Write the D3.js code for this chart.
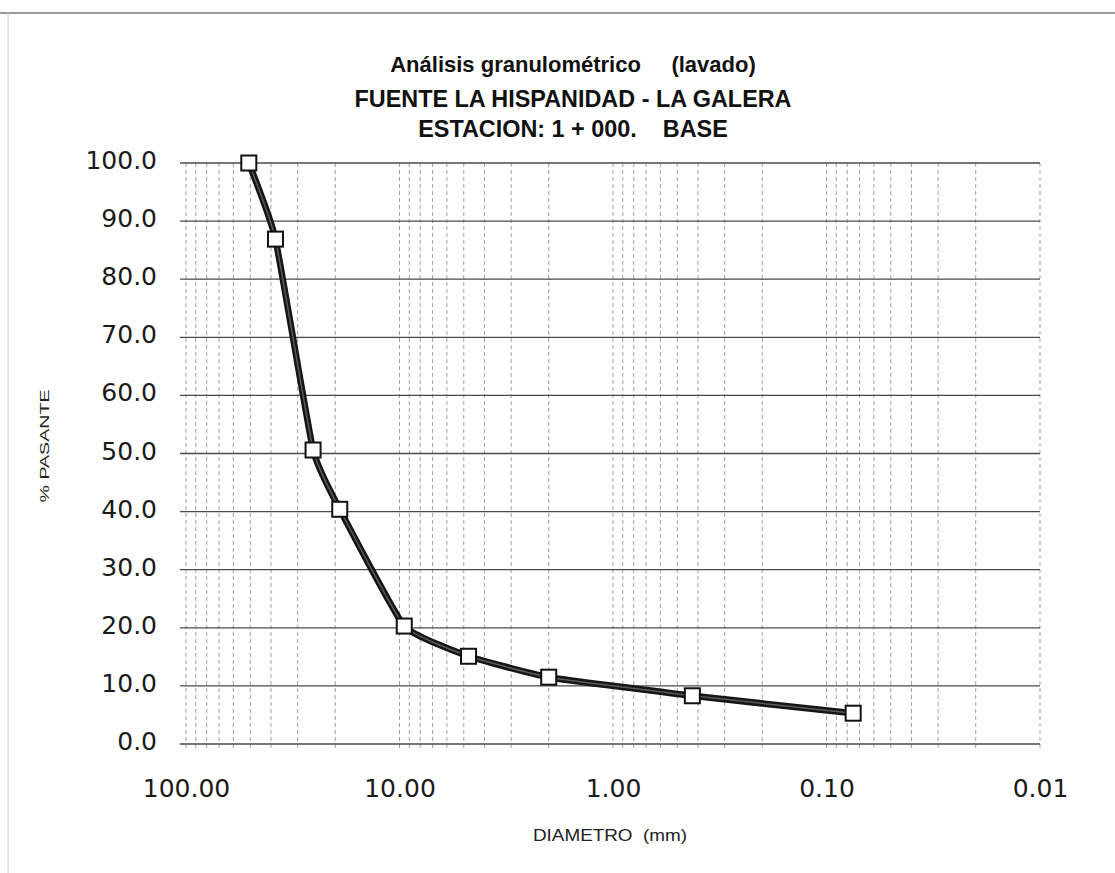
<!DOCTYPE html>
<html lang="es">
<head>
    <meta charset="utf-8">
    <title>Análisis granulométrico</title>
    <script src="https://d3js.org/d3.v7.min.js"></script>
    <style>
        body { margin: 0; background: #fff; }
        svg { display: block; }
        .title { font-family: "Liberation Sans", Arial, sans-serif; font-weight: bold; fill: #111; white-space: pre; }
        .tick text { font-family: "DejaVu Sans", sans-serif; font-size: 25px; fill: #1a1a1a; }
        .axis-label { font-family: "Liberation Sans", Arial, sans-serif; fill: #222; white-space: pre; }
    </style>
</head>
<body>
<div id="chart"></div>
<script>
    // sieve openings (mm) and % passing
    const diameters = [50.8, 38.1, 25.4, 19.05, 9.5, 4.75, 2.0, 0.425, 0.075];
    const passing = [100, 86.9, 50.6, 40.4, 20.3, 15.1, 11.5, 8.3, 5.3];
    const xTickValues = [100, 10, 1, 0.1, 0.01];
    const yTickValues = [0, 10, 20, 30, 40, 50, 60, 70, 80, 90, 100];
    const titleLines = ["Análisis granulométrico     (lavado)", "FUENTE LA HISPANIDAD - LA GALERA", "ESTACION: 1 + 000.    BASE"];

    const width = 1115, height = 873;
    const margin = {top: 163, right: 75, bottom: 129, left: 186};

    const svg = d3.select("#chart").append("svg")
        .attr("width", width)
        .attr("height", height);

    // scan frame
    svg.append("line").attr("x1", 0).attr("x2", width).attr("y1", 13).attr("y2", 13)
        .attr("stroke", "#777").attr("stroke-width", 1.5);
    svg.append("line").attr("x1", 8).attr("x2", 8).attr("y1", 13).attr("y2", height)
        .attr("stroke", "#ccc").attr("stroke-width", 1);

    const x = d3.scaleLog()
        .domain([100, 0.01])
        .range([margin.left, width - margin.right]);

    const y = d3.scaleLinear()
        .domain([0, 100])
        .range([height - margin.bottom, margin.top]);

    // vertical log grid (1..9 per decade)
    svg.append("g")
        .selectAll("line")
        .data(x.ticks())
        .join("line")
        .attr("x1", d => x(d)).attr("x2", d => x(d))
        .attr("y1", y(100)).attr("y2", y(0) + 5)
        .attr("stroke", "#a0a0a0")
        .attr("stroke-width", 1)
        .attr("stroke-dasharray", "4,3");

    // horizontal grid
    svg.append("g")
        .selectAll("line")
        .data(yTickValues)
        .join("line")
        .attr("x1", margin.left - 6).attr("x2", x(0.01))
        .attr("y1", d => y(d)).attr("y2", d => y(d))
        .attr("stroke", "#4a4a4a")
        .attr("stroke-width", 1.3);

    const xAxis = g => g
        .attr("transform", `translate(0,${y(0)})`)
        .call(d3.axisBottom(x).tickValues(xTickValues).tickFormat(d3.format(".2f")).tickSize(0).tickPadding(35))
        .call(g => g.select(".domain").remove());

    const yAxis = g => g
        .attr("transform", `translate(${margin.left - 4},0)`)
        .call(d3.axisLeft(y).tickValues(yTickValues).tickFormat(d3.format(".1f")).tickSize(0).tickPadding(25))
        .call(g => g.select(".domain").remove())
        .call(g => g.selectAll(".tick text").attr("dy", "0.22em"));

    svg.append("g").call(xAxis);
    svg.append("g").call(yAxis);

    // titles
    const titleY = [72, 107, 137];
    const titleSize = [22, 23.4, 23.4];
    svg.append("g")
        .selectAll("text")
        .data(titleLines)
        .join("text")
        .attr("class", "title")
        .attr("x", 573)
        .attr("y", (d, i) => titleY[i])
        .attr("text-anchor", "middle")
        .attr("font-size", (d, i) => titleSize[i])
        .text(d => d);

    svg.append("text")
        .attr("class", "axis-label")
        .attr("x", 610).attr("y", 841)
        .attr("text-anchor", "middle")
        .attr("font-size", 17)
        .attr("textLength", 154)
        .attr("lengthAdjust", "spacingAndGlyphs")
        .text("DIAMETRO  (mm)");

    svg.append("text")
        .attr("class", "axis-label")
        .attr("transform", "translate(49,446) rotate(-90)")
        .attr("text-anchor", "middle")
        .attr("font-size", 13)
        .attr("textLength", 113)
        .attr("lengthAdjust", "spacingAndGlyphs")
        .text("% PASANTE");

    // gradation curve
    const pts = diameters.map((d, i) => [d, passing[i]]);
    const line = d3.line()
        .x(d => x(d[0]))
        .y(d => y(d[1]))
        .curve(d3.curveCardinal.tension(0.6));

    svg.append("path")
        .attr("d", line(pts))
        .attr("fill", "none")
        .attr("stroke", "#151515")
        .attr("stroke-width", 6.5)
        .attr("stroke-linejoin", "round");
    svg.append("path")
        .attr("d", line(pts))
        .attr("fill", "none")
        .attr("stroke", "#5a5a5a")
        .attr("stroke-width", 1.5);

    svg.append("g")
        .selectAll("rect")
        .data(pts)
        .join("rect")
        .attr("x", d => x(d[0]) - 7.5)
        .attr("y", d => y(d[1]) - 7.5)
        .attr("width", 15)
        .attr("height", 15)
        .attr("fill", "#fff")
        .attr("stroke", "#111")
        .attr("stroke-width", 2);
</script>
</body>
</html>
